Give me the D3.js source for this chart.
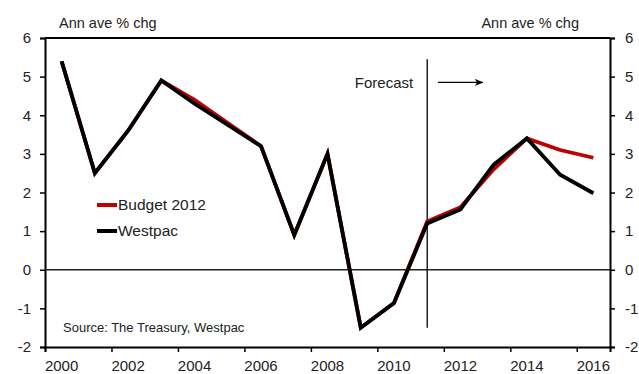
<!DOCTYPE html>
<html>
<head>
<meta charset="utf-8">
<script src="https://cdn.jsdelivr.net/npm/d3@7"></script>
<style>
  body { margin: 0; background: #fff; }
  svg { display: block; font-family: Arial, "Liberation Sans", sans-serif; }
</style>
</head>
<body>
<svg id="my_svg"></svg>
<script>
const width = 639;
const height = 374;

// data
const years = [2000, 2001, 2002, 2003, 2004, 2005, 2006, 2007, 2008, 2009, 2010, 2011, 2012, 2013, 2014, 2015, 2016];
const budget = [5.4, 2.5, 3.6, 4.9, 4.4, 3.8, 3.2, 0.9, 3.0, -1.5, -0.86, 1.25, 1.62, 2.6, 3.4, 3.1, 2.9];
const westpac = [5.4, 2.5, 3.6, 4.9, 4.3, 3.75, 3.2, 0.9, 3.0, -1.5, -0.86, 1.2, 1.56, 2.72, 3.4, 2.46, 1.98];
const yTicks = [-2, -1, 0, 1, 2, 3, 4, 5, 6];
const xTicks = [2000, 2002, 2004, 2006, 2008, 2010, 2012, 2014, 2016];
const seriesNames = ['Budget 2012', 'Westpac'];
const seriesColors = ['#c00000', '#000000'];
const forecastYear = 2011.5;

const svg = d3.select('#my_svg')
  .attr('width', width)
  .attr('height', height);

const plotLeft = 45, plotRight = 610, plotTop = 38, plotBottom = 347;

const xScale = d3.scaleLinear().domain([2000, 2017]).range([plotLeft, plotRight]);
const yScale = d3.scaleLinear().domain([-2, 6]).range([plotBottom, plotTop]);

// 坐标轴
const yLeft = d3.axisLeft(yScale).tickValues(yTicks).tickSize(5).tickPadding(9).tickFormat(d => String(d));
const yRight = d3.axisRight(yScale).tickValues(yTicks).tickSize(5).tickPadding(10).tickFormat(d => String(d));
const xAxis = d3.axisBottom(xScale).tickValues(xTicks).tickSize(5).tickFormat('');

svg.append('g').attr('class', 'axis').attr('transform', `translate(${plotLeft},0)`).call(yLeft);
svg.append('g').attr('class', 'axis').attr('transform', `translate(${plotRight},0)`).call(yRight);
svg.append('g').attr('class', 'axis').attr('transform', `translate(0,${plotBottom})`).call(xAxis);

svg.selectAll('.axis path').attr('stroke', '#000').attr('stroke-width', 2);
svg.selectAll('.axis line').attr('stroke', '#000').attr('stroke-width', 1.5);
svg.selectAll('.axis text').attr('font-size', 15).attr('fill', '#222');

// 年份标签放在每年的中间
svg.append('g')
  .selectAll('text')
  .data(xTicks)
  .enter()
  .append('text')
  .attr('x', d => xScale(d + 0.5))
  .attr('y', 371)
  .attr('text-anchor', 'middle')
  .attr('font-size', 15)
  .attr('fill', '#222')
  .text(d => d);

// 顶部边框
svg.append('line')
  .attr('x1', plotLeft).attr('x2', plotRight)
  .attr('y1', plotTop).attr('y2', plotTop)
  .attr('stroke', '#000').attr('stroke-width', 2);

// 零线
svg.append('line')
  .attr('x1', plotLeft).attr('x2', plotRight)
  .attr('y1', yScale(0)).attr('y2', yScale(0))
  .attr('stroke', '#222').attr('stroke-width', 1.5);

// forecast 竖线和箭头
svg.append('line')
  .attr('x1', xScale(forecastYear)).attr('x2', xScale(forecastYear))
  .attr('y1', yScale(5.45)).attr('y2', yScale(-1.5))
  .attr('stroke', '#000').attr('stroke-width', 1.3);

svg.append('text')
  .attr('x', xScale(forecastYear) - 14)
  .attr('y', yScale(4.85))
  .attr('dy', '0.35em')
  .attr('text-anchor', 'end')
  .attr('font-size', 15)
  .attr('fill', '#222')
  .text('Forecast');

svg.append('defs').append('marker')
  .attr('id', 'arrow')
  .attr('viewBox', '0 0 10 10')
  .attr('refX', 9).attr('refY', 5)
  .attr('markerWidth', 7).attr('markerHeight', 7)
  .attr('orient', 'auto')
  .append('path')
  .attr('d', 'M0,1 L10,5 L0,9 L3,5 z')
  .attr('fill', '#000');

svg.append('line')
  .attr('x1', xScale(forecastYear + 0.32)).attr('x2', xScale(forecastYear + 1.67))
  .attr('y1', yScale(4.85)).attr('y2', yScale(4.85))
  .attr('stroke', '#000').attr('stroke-width', 1.3)
  .attr('marker-end', 'url(#arrow)');

// 折线
const line = d3.line()
  .x(d => xScale(d[0] + 0.5))
  .y(d => yScale(d[1]));

[budget, westpac].forEach((vals, i) => {
  svg.append('path')
    .datum(years.map((y, j) => [y, vals[j]]))
    .attr('d', line)
    .attr('fill', 'none')
    .attr('stroke', seriesColors[i])
    .attr('stroke-width', 3.8)
    .attr('stroke-linejoin', 'miter');
});

// 图例
const legend = svg.append('g');
seriesNames.forEach((name, i) => {
  const ly = 205 + i * 26;
  legend.append('line')
    .attr('x1', 97).attr('x2', 117)
    .attr('y1', ly).attr('y2', ly)
    .attr('stroke', seriesColors[i]).attr('stroke-width', 4);
  legend.append('text')
    .attr('x', 118).attr('y', ly)
    .attr('dy', '0.35em')
    .attr('font-size', 15.5)
    .attr('fill', '#222')
    .text(name);
});

// 单位标签
svg.append('text')
  .attr('x', 59).attr('y', 28)
  .attr('font-size', 14.5)
  .attr('fill', '#222')
  .text('Ann ave % chg');

svg.append('text')
  .attr('x', 579).attr('y', 28)
  .attr('text-anchor', 'end')
  .attr('font-size', 14.5)
  .attr('fill', '#222')
  .text('Ann ave % chg');

// 数据来源
svg.append('text')
  .attr('x', 63).attr('y', 327)
  .attr('dy', '0.35em')
  .attr('font-size', 13)
  .attr('fill', '#222')
  .text('Source: The Treasury, Westpac');
</script>
</body>
</html>
